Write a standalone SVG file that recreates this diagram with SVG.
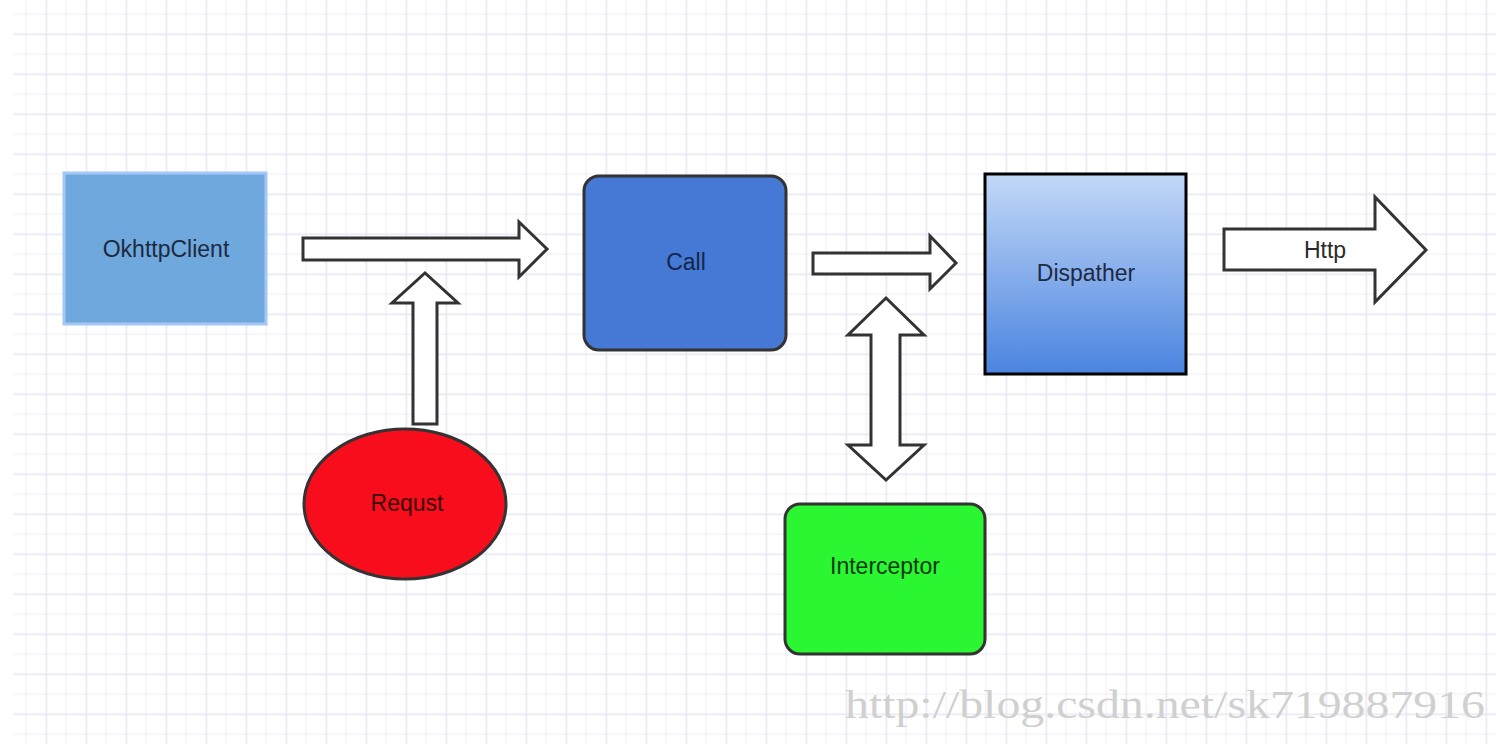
<svg xmlns="http://www.w3.org/2000/svg" width="1496" height="744" viewBox="0 0 1496 744">
<style>
.arrow{fill:#ffffff;stroke:#333333;stroke-width:3;stroke-linejoin:miter}
.lbl{font-family:"Liberation Sans",Arial,sans-serif;font-size:23px;text-anchor:middle;dominant-baseline:central}
.node{stroke-width:3}
.wm{font-family:"Liberation Serif","Times New Roman",serif;font-size:40px;fill:#d0d0d0}
</style>
<defs>
<pattern id="grid" patternUnits="userSpaceOnUse" x="25.5" y="13.5" width="40" height="40">
<rect x="0" y="0" width="1.3" height="40" fill="#f0f0f8"/>
<rect x="0" y="0" width="40" height="1.3" fill="#f0f0f8"/>
<rect x="20" y="0" width="1.5" height="40" fill="#e6e6f2"/>
<rect x="0" y="20" width="40" height="1.5" fill="#e6e6f2"/>
</pattern>
<linearGradient id="dispGrad" x1="0" y1="0" x2="0" y2="1">
<stop offset="0" stop-color="#c3d8f7"/>
<stop offset="1" stop-color="#4a84e0"/>
</linearGradient>
</defs>
<g id="background">
<rect x="0" y="0" width="1496" height="744" fill="#ffffff"/>
<rect x="13" y="0" width="1483" height="744" fill="url(#grid)"/>
</g>
<g id="connectors">
<polygon id="arrow-client-call" class="arrow" points="303,238 519,238 519,222 547,249 519,277 519,260 303,260"/>
<polygon id="arrow-request-up" class="arrow" points="413,424 413,303 392,303 425,273 458,303 437,303 437,424"/>
<polygon id="arrow-call-dispatcher" class="arrow" points="813,253 930,253 930,236 956,263 930,289 930,274 813,274"/>
<polygon id="arrow-interceptor" class="arrow" points="886,298 924,335 900,335 900,445 924,445 886,480 848,445 871,445 871,335 848,335"/>
<g id="arrow-http">
<polygon class="arrow" points="1224,229 1375,229 1375,197 1426,250 1375,302 1375,270 1224,270"/>
<text class="lbl" x="1325" y="250" fill="#2a2a2a">Http</text>
</g>
</g>
<g id="node-okhttpclient">
<rect class="node" x="64" y="173" width="202" height="151" fill="#6fa8dc" stroke="#a4c8f5"/>
<text class="lbl" x="166" y="249" fill="#1c2a40">OkhttpClient</text>
</g>
<g id="node-call">
<rect class="node" x="584" y="176" width="202" height="174" rx="15" ry="15" fill="#4579d5" stroke="#333333"/>
<text class="lbl" x="686" y="262" fill="#14264a">Call</text>
</g>
<g id="node-dispatcher">
<rect class="node" x="985" y="174" width="201" height="200" fill="url(#dispGrad)" stroke="#000000"/>
<text class="lbl" x="1086" y="273" fill="#1c2a44">Dispather</text>
</g>
<g id="node-request">
<ellipse class="node" cx="405" cy="504" rx="101" ry="75" fill="#f80d1c" stroke="#333333"/>
<text class="lbl" x="407" y="503" fill="#3a0808">Requst</text>
</g>
<g id="node-interceptor">
<rect class="node" x="785" y="504" width="200" height="150" rx="15" ry="15" fill="#2af632" stroke="#333333"/>
<text class="lbl" x="885" y="566" fill="#0c3a0c">Interceptor</text>
</g>
<text class="wm" x="845" y="718" textLength="640" lengthAdjust="spacingAndGlyphs">http://blog.csdn.net/sk719887916</text>
</svg>
